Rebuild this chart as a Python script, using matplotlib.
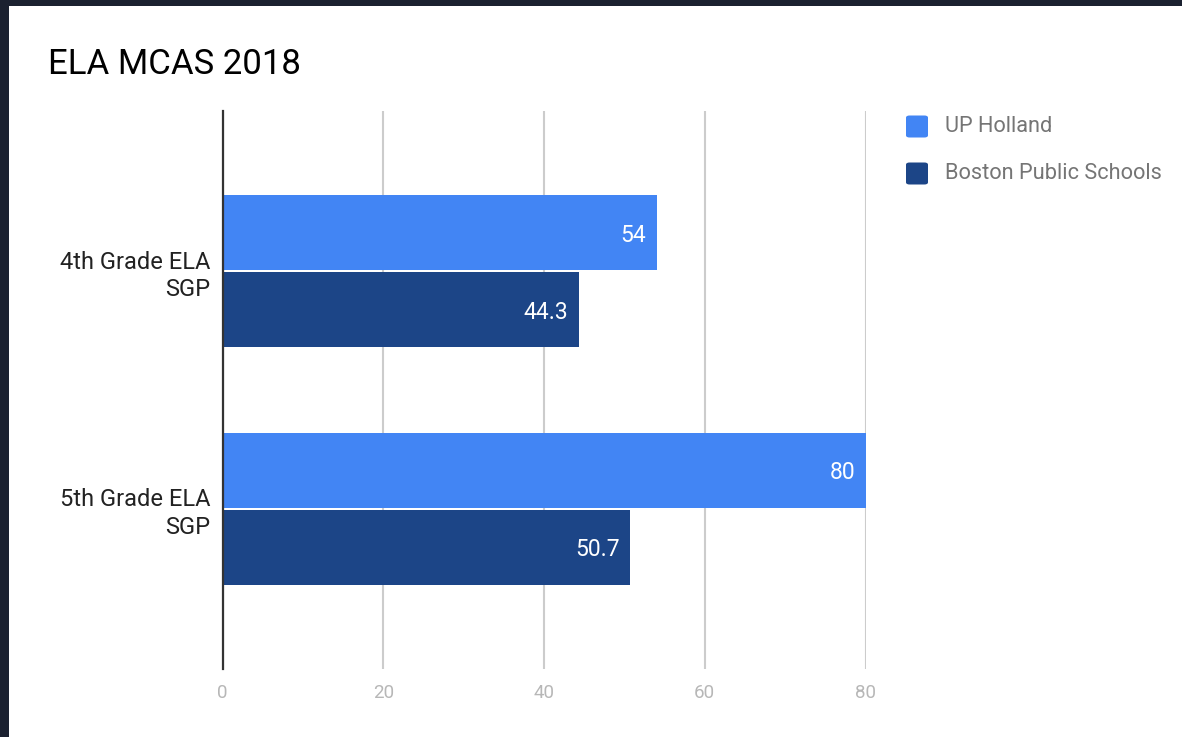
import matplotlib
matplotlib.use("Agg")
import matplotlib.pyplot as plt
from matplotlib.patches import Rectangle, FancyBboxPatch
import numpy as np

plt.rcParams['font.family'] = ['Roboto', 'DejaVu Sans']

title = "ELA MCAS 2018"
categories = ["4th Grade ELA\nSGP", "5th Grade ELA\nSGP"]
series_names = ["UP Holland", "Boston Public Schools"]
up_holland = [54, 80]
boston = [44.3, 50.7]
value_labels = [["54", "80"], ["44.3", "50.7"]]
xticks = [0, 20, 40, 60, 80]

colors = ["#4285f4", "#1c4587"]

W, H = 1182, 737
fig = plt.figure(figsize=(W / 100, H / 100), dpi=100)
fig.patch.set_facecolor("white")

# dark screenshot frame
fig.patches.append(Rectangle((0, 1 - 6 / H), 1, 6 / H, transform=fig.transFigure,
                             facecolor="#1b2130", edgecolor="none", zorder=0))
fig.patches.append(Rectangle((0, 0), 9 / W, 1, transform=fig.transFigure,
                             facecolor="#1b2130", edgecolor="none", zorder=0))

left, right, top, bottom = 222.5, 865.5, 111, 669
ax = fig.add_axes([left / W, 1 - bottom / H, (right - left) / W, (bottom - top) / H])

y = np.arange(len(categories))
h = 0.316
off = 0.163
series = [up_holland, boston]
for i, (vals, c) in enumerate(zip(series, colors)):
    pos = y + (-off if i == 0 else off)
    bars = ax.barh(pos, vals, height=h, color=c, zorder=3)
    for b, lab in zip(bars, value_labels[i]):
        ax.text(b.get_width() - 1.25, b.get_y() + b.get_height() / 2, lab,
                color="white", fontsize=16.5, ha="right", va="center_baseline",
                zorder=4)

ax.set_xlim(0, 80)
ax.set_ylim(1.675, -0.675)
ax.set_xticks(xticks)
ax.set_xticklabels([str(t) for t in xticks], color="#b7b7b7", fontsize=13.5)
ax.set_yticks(y)
ax.set_yticklabels(categories, fontsize=17, color="#222222", ha="right",
                   linespacing=1.25)
ax.tick_params(axis="both", length=0)
ax.tick_params(axis="x", pad=11)
ax.tick_params(axis="y", pad=9)
ax.grid(axis="x", color="#cccccc", linewidth=1.5, zorder=0)
ax.grid(axis="y", visible=False)
for s in ["top", "right", "bottom"]:
    ax.spines[s].set_visible(False)
ax.spines["left"].set_color("#333333")
ax.spines["left"].set_linewidth(1.6)
ax.spines["left"].set_zorder(5)

fig.text(48 / W, 1 - 65 / H, title, fontsize=25, color="#000000",
         ha="left", va="center")

# legend
for i, (name, c) in enumerate(zip(series_names, colors)):
    yc = 126.5 + i * 47
    fig.patches.append(FancyBboxPatch((906 / W, 1 - (yc + 11) / H), 22 / W, 22 / H,
                                      boxstyle="round,pad=0,rounding_size=0.003",
                                      transform=fig.transFigure,
                                      facecolor=c, edgecolor="none"))
    fig.text(945 / W, 1 - yc / H, name, fontsize=15.7, color="#757575",
             ha="left", va="center")

fig.savefig("out.png", dpi=100)
